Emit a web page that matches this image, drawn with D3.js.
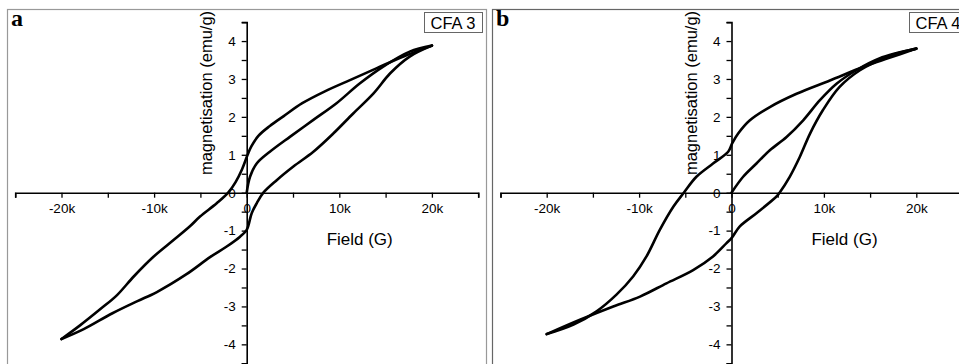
<!DOCTYPE html>
<html>
<head>
<meta charset="utf-8">
<script src="https://cdn.jsdelivr.net/npm/d3@7"></script>
<style>
  html, body { margin: 0; padding: 0; background: #fff; }
  svg { display: block; }
</style>
</head>
<body>
<svg id="chart" width="959" height="364"></svg>
<script>
// ---------- data ----------
const panelLabels = ["a", "b"];
const sampleNames = ["CFA 3", "CFA 4"];
const xTickValues = [-20000, -10000, 0, 10000, 20000];
const xTickLabels = ["-20k", "-10k", "0", "10k", "20k"];
const yTickValues = [-4, -3, -2, -1, 0, 1, 2, 3, 4];
const xTitle = "Field (G)";
const yTitle = "magnetisation (emu/g)";

// CFA 3 : [field (G), magnetisation (emu/g)]
const cfa3Initial = [[0,0],[360,0.42],[1080,0.77],[2500,1.08],[4700,1.48],[7200,1.92],[9700,2.36],[12200,2.88],[14700,3.32],[17600,3.72],[20000,3.88]];
const cfa3Upper = [[20000,3.88],[17000,3.6],[14000,3.28],[11150,2.97],[8500,2.68],[6000,2.36],[4000,2.02],[2500,1.76],[1260,1.5],[500,1.22],[100,1.0],[-500,0.62],[-1200,0.28],[-2000,0],[-3240,-0.28],[-5040,-0.63],[-6100,-0.88],[-7900,-1.25],[-10070,-1.69],[-12200,-2.21],[-14000,-2.7],[-15800,-3.07],[-18000,-3.5],[-20000,-3.86]];
const cfa3Lower = [[-20000,-3.86],[-17600,-3.6],[-14500,-3.18],[-11800,-2.86],[-9700,-2.62],[-6500,-2.15],[-3960,-1.7],[-2160,-1.42],[-720,-1.16],[0,-0.98],[540,-0.54],[1080,-0.28],[1800,0],[3240,0.33],[5040,0.69],[7200,1.08],[9350,1.56],[11500,2.09],[13700,2.62],[15500,3.15],[17600,3.59],[20000,3.88]];

// CFA 4
const cfa4Initial = [[0,0],[1260,0.42],[2700,0.77],[4150,1.12],[5960,1.47],[7760,1.91],[9570,2.44],[11400,2.88],[13500,3.23],[16000,3.54],[20000,3.8]];
const cfa4Upper = [[20000,3.8],[17000,3.55],[14300,3.32],[10650,2.96],[7040,2.61],[4150,2.26],[1990,1.91],[720,1.56],[70,1.3],[-360,1.08],[-2000,0.77],[-3800,0.42],[-5160,0],[-6300,-0.37],[-7760,-0.98],[-9200,-1.68],[-10650,-2.21],[-12450,-2.69],[-14600,-3.13],[-17100,-3.48],[-20000,-3.73]];
const cfa4Lower = [[-20000,-3.73],[-16400,-3.35],[-12800,-3.0],[-9900,-2.74],[-7040,-2.39],[-4150,-2.04],[-2000,-1.68],[-540,-1.33],[0,-1.2],[900,-0.89],[2700,-0.54],[4870,-0.1],[5200,0],[6300,0.42],[7400,0.95],[8500,1.56],[9900,2.18],[11700,2.79],[13900,3.23],[16800,3.58],[20000,3.8]];

const panelSeries = [[cfa3Initial, cfa3Upper, cfa3Lower], [cfa4Initial, cfa4Upper, cfa4Lower]];

// ---------- layout ----------
const svg = d3.select("#chart");
const panels = [
  { frameX: 7.5, frameRight: 486.5, xRange: [15.2, 478.2], legendX: 424.5 },
  { frameX: 492.5, frameRight: 975, xRange: [500.5, 962.5], legendX: 909.5 }
];
const yRange = [363.3, 22.1];
const font = "Arial, 'Liberation Sans', sans-serif";

panels.forEach((p, i) => {
  const g = svg.append("g");
  // frame
  g.append("rect")
    .attr("x", p.frameX).attr("y", 9.5)
    .attr("width", p.frameRight - p.frameX).attr("height", 400)
    .attr("fill", "none").attr("stroke", i === 0 ? "#999" : "#666").attr("stroke-width", 1.2);

  const x = d3.scaleLinear().domain([-25000, 25000]).range(p.xRange);
  const y = d3.scaleLinear().domain([-4.5, 4.5]).range(yRange);

  // x axis (through y=0)
  const xAxis = d3.axisBottom(x)
    .tickValues(d3.range(-25000, 25001, 5000))
    .tickSize(5)
    .tickFormat(d => { const k = xTickValues.indexOf(d); return k >= 0 ? xTickLabels[k] : ""; })
    .tickPadding(6);
  const gx = g.append("g").attr("transform", `translate(0,${y(0)})`).call(xAxis);
  gx.select(".domain").attr("stroke", "#000").attr("stroke-width", 1.6);
  gx.selectAll(".tick line").attr("stroke", "#000").attr("stroke-width", 1.3);
  gx.selectAll(".tick text").attr("font-family", font).attr("font-size", 13.5).attr("fill", "#000");

  // y axis (through x=0)
  const yAxis = d3.axisLeft(y)
    .tickValues(d3.range(-4.5, 4.51, 0.5))
    .tickSize(5)
    .tickFormat(d => yTickValues.includes(d) ? String(d) : "")
    .tickPadding(6);
  const gy = g.append("g").attr("transform", `translate(${x(0)},0)`).call(yAxis);
  gy.select(".domain").attr("stroke", "#000").attr("stroke-width", 1.6);
  gy.selectAll(".tick line").attr("stroke", "#000").attr("stroke-width", 1.3);
  gy.selectAll(".tick text").attr("font-family", font).attr("font-size", 13.5).attr("fill", "#000");

  // curves
  const line = d3.line().x(d => x(d[0])).y(d => y(d[1])).curve(d3.curveCatmullRom.alpha(0.5));
  panelSeries[i].forEach(s => {
    g.append("path").attr("d", line(s))
      .attr("fill", "none").attr("stroke", "#000").attr("stroke-width", 2.6)
      .attr("stroke-linejoin", "round").attr("stroke-linecap", "round");
  });

  // axis titles
  g.append("text")
    .attr("x", x(0) + 113).attr("y", 245)
    .attr("text-anchor", "middle")
    .attr("font-family", font).attr("font-size", 17)
    .text(xTitle);
  g.append("text")
    .attr("transform", `translate(${x(0) - 35},93) rotate(-90)`)
    .attr("text-anchor", "middle")
    .attr("font-family", font).attr("font-size", 16.5)
    .text(yTitle);

  // panel letter
  g.append("text")
    .attr("x", p.frameX + 3.5).attr("y", 25.5)
    .attr("font-family", "'Liberation Serif', 'Times New Roman', serif")
    .attr("font-weight", "bold").attr("font-size", 24)
    .text(panelLabels[i]);

  // legend box
  g.append("rect")
    .attr("x", p.legendX).attr("y", 12.5).attr("width", 58).attr("height", 20)
    .attr("fill", "#fff").attr("stroke", "#666").attr("stroke-width", 1);
  g.append("text")
    .attr("x", p.legendX + 6).attr("y", 28.5)
    .attr("font-family", font).attr("font-size", 16.5)
    .text(sampleNames[i]);
});
</script>
</body>
</html>
